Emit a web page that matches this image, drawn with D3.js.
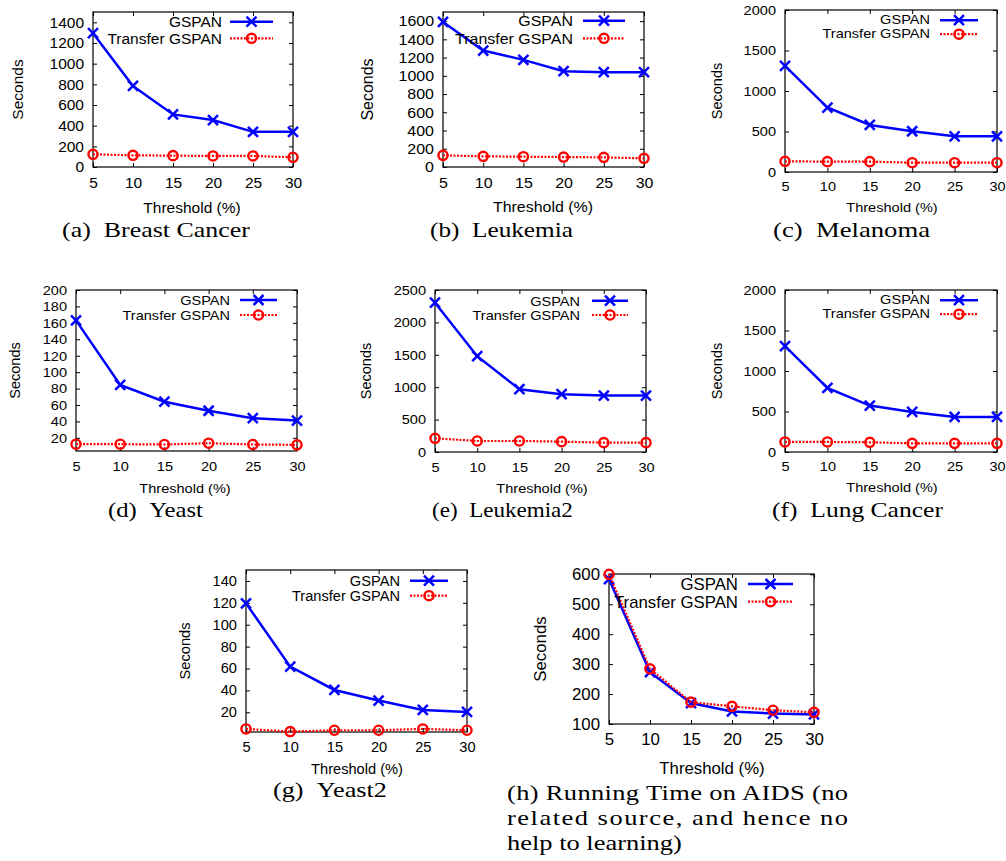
<!DOCTYPE html>
<html lang="en">
<head>
<meta charset="UTF-8">
<title>Running time: GSPAN vs Transfer GSPAN</title>
<script src="https://d3js.org/d3.v7.min.js"></script>
<style>
  body { margin: 0; background: #fff; }
  svg { display: block; }
</style>
</head>
<body>
<div id="chart"></div>
<script>
// ---- data ----
var thresholds = [5, 10, 15, 20, 25, 30];
var seriesNames = ["GSPAN", "Transfer GSPAN"];
var xLabel = "Threshold (%)";
var yLabel = "Seconds";

var gspanBreast = [1295, 784, 509, 454, 340, 340];
var transferBreast = [123, 113, 110, 107, 107, 94];
var gspanLeukemia = [1591, 1277, 1175, 1051, 1040, 1040];
var transferLeukemia = [128, 117, 113, 109, 106, 95];
var gspanMelanoma = [1311, 796, 581, 503, 441, 441];
var transferMelanoma = [132, 128, 128, 115, 115, 115];
var gspanYeast = [163, 84.5, 64, 53, 44, 41];
var transferYeast = [12.3, 12.3, 11.9, 13.5, 11.9, 11.5];
var gspanLeukemia2 = [2304, 1479, 969, 892, 871, 871];
var transferLeukemia2 = [211, 170, 170, 160, 144, 144];
var gspanLung = [1307, 792, 573, 495, 433, 433];
var transferLung = [124, 124, 120, 107, 107, 107];
var gspanYeast2 = [119.6, 61.7, 40.4, 30.7, 22.2, 20.3];
var transferYeast2 = [4.8, 2.4, 3.6, 3.6, 4.8, 3.6];
var gspanAids = [584, 273, 170, 142, 135, 132];
var transferAids = [600, 284, 173, 159, 146, 139];

var yTicksBreast = [0, 200, 400, 600, 800, 1000, 1200, 1400];
var yTicksLeukemia = [0, 200, 400, 600, 800, 1000, 1200, 1400, 1600];
var yTicks2000 = [0, 500, 1000, 1500, 2000];
var yTicksYeast = [20, 40, 60, 80, 100, 120, 140, 160, 180, 200];
var yTicksLeukemia2 = [0, 500, 1000, 1500, 2000, 2500];
var yTicksYeast2 = [20, 40, 60, 80, 100, 120, 140];
var yTicksAids = [100, 200, 300, 400, 500, 600];

var captions = [
  ["(a)\u2002Breast Cancer"],
  ["(b)\u2002Leukemia"],
  ["(c)\u2002Melanoma"],
  ["(d)\u2002Yeast"],
  ["(e)\u2002Leukemia2"],
  ["(f)\u2002Lung Cancer"],
  ["(g)\u2002Yeast2"],
  ["(h) Running Time on AIDS (no", "related source, and hence no", "help to learning)"]
];

var panelData = [
  [gspanBreast, transferBreast, yTicksBreast],
  [gspanLeukemia, transferLeukemia, yTicksLeukemia],
  [gspanMelanoma, transferMelanoma, yTicks2000],
  [gspanYeast, transferYeast, yTicksYeast],
  [gspanLeukemia2, transferLeukemia2, yTicksLeukemia2],
  [gspanLung, transferLung, yTicks2000],
  [gspanYeast2, transferYeast2, yTicksYeast2],
  [gspanAids, transferAids, yTicksAids]
];

// ---- layout, one entry per panel ----
// fs = font size, hs = horizontal stretch of the sans text (the eps figures were scaled unevenly)
var layouts = [
  {l: 93, r: 293, t: 12, b: 167, dom: [0, 1500], fs: 15.5, hs: 1, sx: 17, leg: 222, r1: 21.7, r2: 38.3, lx: [230, 273], th: [192, 207], cap: [62, 250, 237]},
  {l: 443, r: 644, t: 12, b: 167, dom: [0, 1700], fs: 15.2, hs: 1.05, sx: 367, leg: 573, r1: 20.7, r2: 38.3, lx: [583, 625], th: [543, 207], cap: [430, 573, 237]},
  {l: 785, r: 997, t: 10, b: 172, dom: [0, 2000], fs: 13, hs: 1.12, sx: 717, leg: 930, r1: 20.2, r2: 34.2, lx: [940, 978], th: [892, 208], cap: [773, 930, 237]},
  {l: 76, r: 297, t: 290, b: 451, dom: [4, 200], fs: 13.6, hs: 1.07, sx: 15, leg: 230, r1: 300, r2: 315, lx: [240, 277], th: [185, 488], cap: [108, 203, 517]},
  {l: 435, r: 646, t: 290, b: 452, dom: [0, 2500], fs: 13.6, hs: 1.07, sx: 366, leg: 580, r1: 300.7, r2: 315, lx: [592, 628], th: [542, 488], cap: [432, 573, 517]},
  {l: 785, r: 997, t: 290, b: 452, dom: [0, 2000], fs: 13, hs: 1.12, sx: 717, leg: 930, r1: 300.2, r2: 314.2, lx: [940, 978], th: [892, 488], cap: [772, 943, 517]},
  {l: 246, r: 467, t: 570, b: 732, dom: [2, 150], fs: 13.8, hs: 1.06, sx: 185, leg: 400, r1: 580.7, r2: 595.7, lx: [410, 448], th: [357, 769], cap: [273, 387, 797]},
  {l: 609, r: 814, t: 574, b: 724, dom: [100, 601], fs: 16, hs: 1.05, sx: 540, leg: 738, r1: 584, r2: 601.7, lx: [748, 793], th: [712, 768], cap: [507, 848, 800], capLast: [507, 682]}
];

var blue = "#0000ff", red = "#ff0000";
var sans = "'Liberation Sans', Arial, Helvetica, sans-serif";
var serif = "'Liberation Serif', 'Times New Roman', serif";

var svg = d3.select("#chart").append("svg")
  .attr("width", 1006)
  .attr("height", 861);

function cross(sel, cx, cy) {
  sel.append("path")
    .attr("d", "M" + (cx - 5) + "," + (cy - 5) + "L" + (cx + 5) + "," + (cy + 5) +
               "M" + (cx - 5) + "," + (cy + 5) + "L" + (cx + 5) + "," + (cy - 5))
    .attr("stroke", blue).attr("stroke-width", 2.5).attr("fill", "none");
}
function ring(sel, cx, cy) {
  sel.append("circle").attr("cx", cx).attr("cy", cy).attr("r", 4.6)
    .attr("fill", "none").attr("stroke", red).attr("stroke-width", 2.4);
}

// sans text placed at (x, y) and stretched sideways by hs
function label(sel, x, y, txt, p, anchor) {
  return sel.append("text")
    .attr("transform", "translate(" + x + "," + y + ") scale(" + p.hs + ",1)")
    .attr("text-anchor", anchor).attr("dominant-baseline", "central")
    .attr("font-family", sans).attr("font-size", p.fs).attr("fill", "#000")
    .text(txt);
}

function styleAxis(a, p) {
  a.select(".domain").remove();
  a.attr("font-family", sans).attr("font-size", p.fs);
  a.selectAll("line").attr("stroke", "#000").attr("stroke-width", 1);
  a.selectAll("text").attr("fill", "#000").each(function() {
    var t = d3.select(this);
    var tx = +t.attr("x") || 0;
    t.attr("x", 0).attr("transform", "translate(" + tx + ",0) scale(" + p.hs + ",1)");
  });
}

panelData.forEach(function(pd, i) {
  var p = layouts[i];
  var gspan = pd[0], transfer = pd[1], yTicks = pd[2];
  var g = svg.append("g");

  var x = d3.scaleLinear().domain([5, 30]).range([p.l, p.r]);
  var y = d3.scaleLinear().domain(p.dom).range([p.b, p.t]);
  var fmt = d3.format("d");

  // axes with inward ticks, mirrored on top/right
  g.append("g").attr("transform", "translate(" + p.l + ",0)")
    .call(d3.axisLeft(y).tickValues(yTicks).tickFormat(fmt).tickSizeInner(-4).tickSizeOuter(0).tickPadding(9))
    .call(styleAxis, p);
  g.append("g").attr("transform", "translate(" + p.r + ",0)")
    .call(d3.axisRight(y).tickValues(yTicks).tickSizeInner(-4).tickSizeOuter(0).tickFormat(""))
    .call(styleAxis, p);
  g.append("g").attr("transform", "translate(0," + p.b + ")")
    .call(d3.axisBottom(x).tickValues(thresholds).tickFormat(fmt).tickSizeInner(-4).tickSizeOuter(0).tickPadding(10))
    .call(styleAxis, p);
  g.append("g").attr("transform", "translate(0," + p.t + ")")
    .call(d3.axisTop(x).tickValues(thresholds).tickSizeInner(-4).tickSizeOuter(0).tickFormat(""))
    .call(styleAxis, p);

  g.append("rect")
    .attr("x", p.l).attr("y", p.t)
    .attr("width", p.r - p.l).attr("height", p.b - p.t)
    .attr("fill", "none").attr("stroke", "#000").attr("stroke-width", 1.2);

  // axis titles
  g.append("text")
    .attr("transform", "translate(" + p.sx + "," + ((p.t + p.b) / 2) + ") rotate(-90)")
    .attr("text-anchor", "middle").attr("dominant-baseline", "central")
    .attr("font-family", sans).attr("font-size", p.fs * p.hs).attr("fill", "#000")
    .text(yLabel);
  label(g, p.th[0], p.th[1], xLabel, p, "middle");

  var line = d3.line()
    .x(function(d, k) { return x(thresholds[k]); })
    .y(function(d) { return y(d); });

  // GSPAN
  g.append("path").datum(gspan).attr("d", line)
    .attr("fill", "none").attr("stroke", blue).attr("stroke-width", 2.5);
  gspan.forEach(function(v, k) { cross(g, x(thresholds[k]), y(v)); });

  // Transfer GSPAN
  g.append("path").datum(transfer).attr("d", line)
    .attr("fill", "none").attr("stroke", red).attr("stroke-width", 2.2)
    .attr("stroke-dasharray", "2,1.5");
  transfer.forEach(function(v, k) { ring(g, x(thresholds[k]), y(v)); });

  // legend
  [p.r1, p.r2].forEach(function(ry, s) {
    label(g, p.leg, ry, seriesNames[s], p, "end");
    var seg = g.append("line")
      .attr("x1", p.lx[0]).attr("x2", p.lx[1]).attr("y1", ry).attr("y2", ry);
    var mid = (p.lx[0] + p.lx[1]) / 2;
    if (s === 0) {
      seg.attr("stroke", blue).attr("stroke-width", 2.5);
      cross(g, mid, ry);
    } else {
      seg.attr("stroke", red).attr("stroke-width", 2.2).attr("stroke-dasharray", "2,1.5");
      ring(g, mid, ry);
    }
  });

  // caption (serif, stretched a bit to mimic Computer Modern width)
  var lines = captions[i];
  if (lines.length === 1) {
    var t = g.append("text")
      .attr("font-family", serif).attr("font-size", 21).attr("fill", "#000")
      .text(lines[0]);
    var w = t.node().getComputedTextLength();
    var k = (p.cap[1] - p.cap[0]) / w;
    t.attr("transform", "translate(" + p.cap[0] + "," + p.cap[2] + ") scale(" + k + ",1)");
  } else {
    var last = g.append("text")
      .attr("font-family", serif).attr("font-size", 21).attr("fill", "#000")
      .text(lines[lines.length - 1]);
    var k2 = (p.capLast[1] - p.capLast[0]) / last.node().getComputedTextLength();
    last.attr("transform", "translate(" + p.capLast[0] + "," + (p.cap[2] + 25 * (lines.length - 1)) + ") scale(" + k2 + ",1)");
    lines.slice(0, -1).forEach(function(txt, j) {
      g.append("text")
        .attr("font-family", serif).attr("font-size", 21).attr("fill", "#000")
        .attr("transform", "translate(" + p.cap[0] + "," + (p.cap[2] + 25 * j) + ") scale(" + k2 + ",1)")
        .attr("textLength", (p.cap[1] - p.cap[0]) / k2)
        .attr("lengthAdjust", "spacing")
        .text(txt);
    });
  }
});
</script>
</body>
</html>
